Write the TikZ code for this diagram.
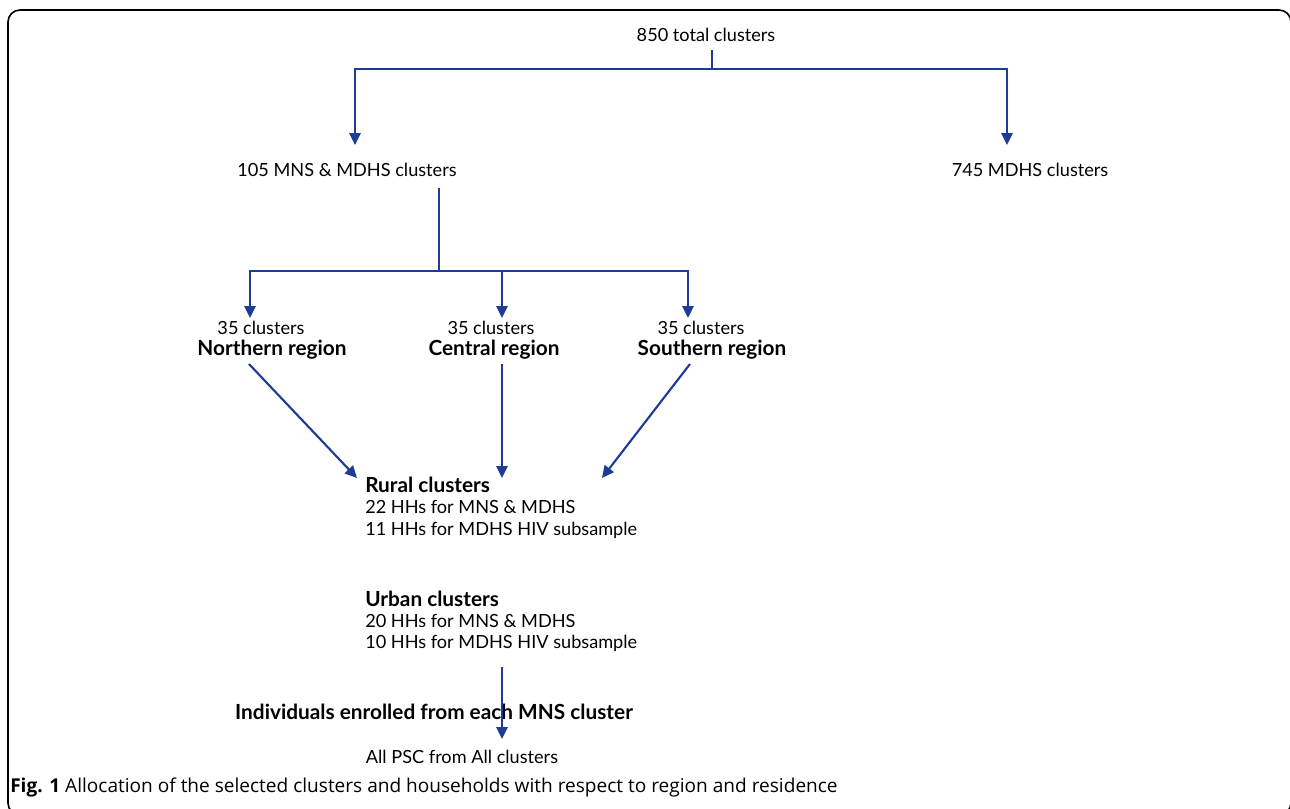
\documentclass[tikz,border=0pt]{standalone}
\usepackage{fontspec}
\setmainfont{Lato}
\newfontfamily\capfont{Open Sans}
\usetikzlibrary{arrows.meta}
\definecolor{lineblue}{RGB}{30,60,150}
\tikzset{
  conn/.style={draw=lineblue, line width=1.6pt},
  arr/.style={conn, -{Triangle[width=8.5pt,length=9pt]}},
  txt/.style={inner sep=0pt, font=\fontsize{13.6}{16}\selectfont},
  btxt/.style={inner sep=0pt, font=\fontsize{15.6}{18}\selectfont\bfseries},
  captxt/.style={inner sep=0pt, font=\capfont\fontsize{14.3}{17}\selectfont},
}
\begin{document}
\begin{tikzpicture}[x=0.75pt,y=-0.75pt]
\useasboundingbox (0,0) rectangle (1290,808);
\draw[line width=1.2pt, rounded corners=9pt] (8,10) rectangle (1291,815);

% texts
\node[txt] (total) at (706,35) {850 total clusters};
\node[txt] (mns) at (347,170) {105 MNS \& MDHS clusters};
\node[txt] (mdhs) at (1030,170) {745 MDHS clusters};

\node[txt] (n1) at (261,328) {35 clusters};
\node[btxt] (n2) at (272,350) {Northern region};
\node[txt] (c1) at (491,328) {35 clusters};
\node[btxt] (c2) at (494,350) {Central region};
\node[txt] (s1) at (701,328) {35 clusters};
\node[btxt] (s2) at (712,350) {Southern region};

\node[btxt, anchor=west] (rural) at (365,485) {Rural clusters};
\node[txt, anchor=west] (rural1) at (365,507) {22 HHs for MNS \& MDHS};
\node[txt, anchor=west] (rural2) at (365,530) {11 HHs for MDHS HIV subsample};

\node[btxt, anchor=west] (urban) at (365,599) {Urban clusters};
\node[txt, anchor=west] (urban1) at (365,621) {20 HHs for MNS \& MDHS};
\node[txt, anchor=west] (urban2) at (365,643) {10 HHs for MDHS HIV subsample};

\node[btxt] (indiv) at (434,712) {Individuals enrolled from each MNS cluster};
\node[txt] (psc) at (462,757) {All PSC from All clusters};

\node[captxt, anchor=west] (cap) at (10,787) {\textbf{Fig. 1} Allocation of the selected clusters and households with respect to region and residence};

% connector coordinates
\coordinate (t0) at (712,50);
\coordinate (j1) at (712,69);
\coordinate (mnsin) at (355,145);
\coordinate (mdhsin) at (1007,145);
\coordinate (m0) at (439,188);
\coordinate (j2) at (439,271);
\coordinate (nin) at (250,318);
\coordinate (cin) at (502,318);
\coordinate (sin) at (688,318);
\coordinate (nout) at (249,364);
\coordinate (cout) at (502,364);
\coordinate (sout) at (690,364);
\coordinate (rn) at (357,478);
\coordinate (rc) at (502,478);
\coordinate (rs) at (602,478);
\coordinate (u0) at (502,667);
\coordinate (pin) at (502,739);

\draw[conn] (t0) -- (j1);
\draw[arr] (j1) -| (mnsin);
\draw[arr] (j1) -| (mdhsin);
\draw[conn] (m0) -- (j2);
\draw[arr] (j2) -| (nin);
\draw[arr] (j2) -| (cin);
\draw[arr] (j2) -| (sin);
\draw[arr] (nout) -- (rn);
\draw[arr] (cout) -- (rc);
\draw[arr] (sout) -- (rs);
\draw[arr] (u0) -- (pin);
\end{tikzpicture}
\end{document}
